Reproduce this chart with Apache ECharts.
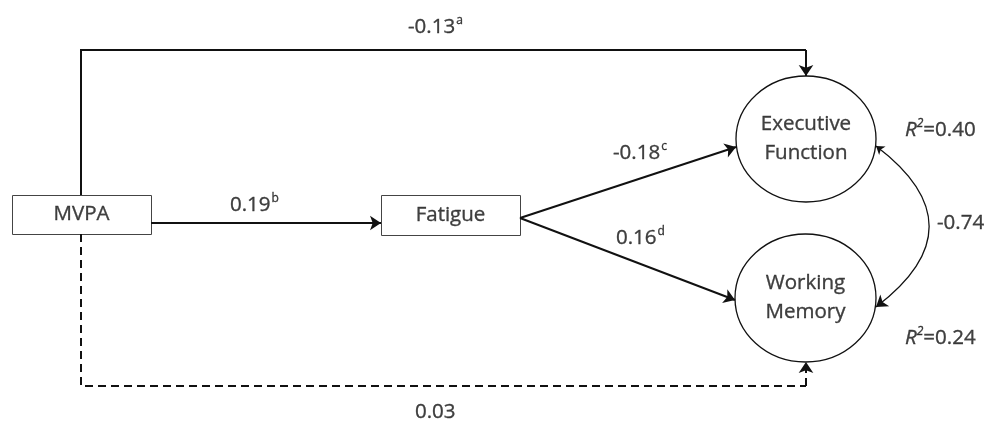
<!DOCTYPE html>
<html><head><meta charset="utf-8">
<script src="https://cdn.jsdelivr.net/npm/echarts@6/dist/echarts.min.js"></script>
<style>html,body{margin:0;padding:0;background:#fff}#c{width:989px;height:421px}</style>
</head><body><div id="c"></div>
<script>
// ---- data ----
const variables = ['MVPA', 'Fatigue', 'Executive\nFunction', 'Working\nMemory'];
const pathCoefs = ['-0.13', '0.19', '-0.18', '0.16', '0.03'];
const pathNotes = ['a', 'b', 'c', 'd', ''];
const covariance = ['-0.74'];
const rSquared = ['0.40', '0.24'];

// ---- layout (pixel frame 989 x 421) ----
const nodeLayout = [
  { shape: 'rect', x: 81.5, y: 214.5, w: 139, h: 39 },
  { shape: 'rect', x: 450.5, y: 215, w: 139, h: 40 },
  { shape: 'ellipse', x: 806, y: 139, w: 140, h: 126 },
  { shape: 'ellipse', x: 805.5, y: 298, w: 141, h: 128 }
];
const pathLayout = [
  [[81, 195], [81, 50], [806, 50], [806, 76]],
  [[151, 223], [381, 223]],
  [[520, 218], [736, 147]],
  [[520, 218], [735, 300]],
  [[81, 234], [81, 386], [806, 386], [806, 362]]
];
const dashedPath = [false, false, false, false, true];
const coefLabelPos = [[408, 27], [230, 205], [613, 153], [616, 238], [415, 412]];
const covLayout = [[876, 146], [876, 307]];
const covLabelPos = [937, 223];
const r2LabelPos = [[905, 130], [905, 338]];

const FONT = 'Open Sans';
const FS = 20.5;
const TXT = '#111';
const LINE = '#111';
const thick = { textBorderColor: TXT, textBorderWidth: 0.35 };

const chart = echarts.init(document.getElementById('c'), null, { renderer: 'canvas' });

const richCommon = {
  m: Object.assign({ fontSize: FS, fontFamily: FONT, color: TXT, lineHeight: 24 }, thick),
  s: Object.assign({ fontSize: 12, fontFamily: FONT, color: TXT, verticalAlign: 'top', lineHeight: 24, padding: [0, 0, 0, 1] }, thick),
  i: Object.assign({ fontSize: FS, fontFamily: FONT, color: TXT, fontStyle: 'italic', lineHeight: 24 }, thick),
  is: Object.assign({ fontSize: 12, fontFamily: FONT, color: TXT, fontStyle: 'italic', verticalAlign: 'top', lineHeight: 24 }, thick)
};

const textData = [];
pathCoefs.forEach((v, k) => {
  textData.push({ value: coefLabelPos[k], label: { formatter: '{m|' + v + '}' + (pathNotes[k] ? '{s|' + pathNotes[k] + '}' : '') } });
});
textData.push({ value: covLabelPos, label: { formatter: '{m|' + covariance[0] + '}' } });
rSquared.forEach((v, k) => {
  textData.push({ value: r2LabelPos[k], label: { formatter: '{i|R}{is|2}{m|=' + v + '}' } });
});

// split each path: body (no arrow) + last segment (arrow)
const bodySolid = [], bodyDashed = [], headSolid = [], headDashed = [];
pathLayout.forEach((c, k) => {
  const last = [c[c.length - 2], c[c.length - 1]];
  if (c.length > 2) (dashedPath[k] ? bodyDashed : bodySolid).push({ coords: c.slice(0, c.length - 1) });
  (dashedPath[k] ? headDashed : headSolid).push({ coords: last });
});

const lineBase = { type: 'lines', coordinateSystem: 'cartesian2d', z: 4 };

chart.setOption({
  animation: false,
  grid: { left: 0, right: 0, top: 0, bottom: 0 },
  xAxis: { type: 'value', min: 0, max: 989, show: false },
  yAxis: { type: 'value', min: 0, max: 421, inverse: true, show: false },
  series: [
    {
      type: 'custom',
      z: 1,
      data: nodeLayout.map(n => [n.x, n.y]),
      encode: { x: 0, y: 1 },
      renderItem: (params, api) => {
        const n = nodeLayout[params.dataIndex];
        const c = api.coord([n.x, n.y]);
        const s = api.size([n.w, n.h]);
        if (n.shape === 'rect') {
          return { type: 'rect', shape: { x: Math.round(c[0] - s[0] / 2) + 0.5, y: Math.round(c[1] - s[1] / 2) + 0.5, width: Math.round(s[0]), height: Math.round(s[1]) },
            style: { fill: '#fff', stroke: '#444', lineWidth: 1 } };
        }
        return { type: 'ellipse', shape: { cx: c[0], cy: c[1], rx: s[0] / 2, ry: s[1] / 2 },
          style: { fill: '#fff', stroke: '#111', lineWidth: 1.3 } };
      }
    },
    {
      type: 'scatter',
      z: 3,
      symbolSize: 0,
      data: nodeLayout.map((n, k) => ({ value: [n.x, n.y], name: variables[k] })),
      label: Object.assign({ show: true, position: 'inside', formatter: p => p.name, fontFamily: FONT, fontSize: FS, lineHeight: 29, color: TXT, align: 'center', verticalAlign: 'middle' }, thick)
    },
    Object.assign({}, lineBase, { polyline: true, symbol: 'none', lineStyle: { color: LINE, width: 2, opacity: 1 }, data: bodySolid }),
    Object.assign({}, lineBase, { polyline: true, symbol: 'none', lineStyle: { color: LINE, width: 2, opacity: 1, type: [8, 5] }, data: bodyDashed }),
    Object.assign({}, lineBase, { symbol: ['none', 'arrow'], symbolSize: [8, 11], lineStyle: { color: LINE, width: 2, opacity: 1 }, data: headSolid }),
    Object.assign({}, lineBase, { symbol: ['none', 'arrow'], symbolSize: [8, 11], lineStyle: { color: LINE, width: 2, opacity: 1, type: [8, 5] }, data: headDashed }),
    Object.assign({}, lineBase, { symbol: ['arrow', 'arrow'], symbolSize: [8, 11], lineStyle: { color: LINE, width: 1.3, opacity: 1, curveness: 0.66 }, data: [{ coords: covLayout }] }),
    {
      type: 'scatter',
      z: 5,
      symbolSize: 0,
      data: textData,
      label: { show: true, position: 'right', distance: 0, rich: richCommon }
    }
  ]
});
</script></body></html>
